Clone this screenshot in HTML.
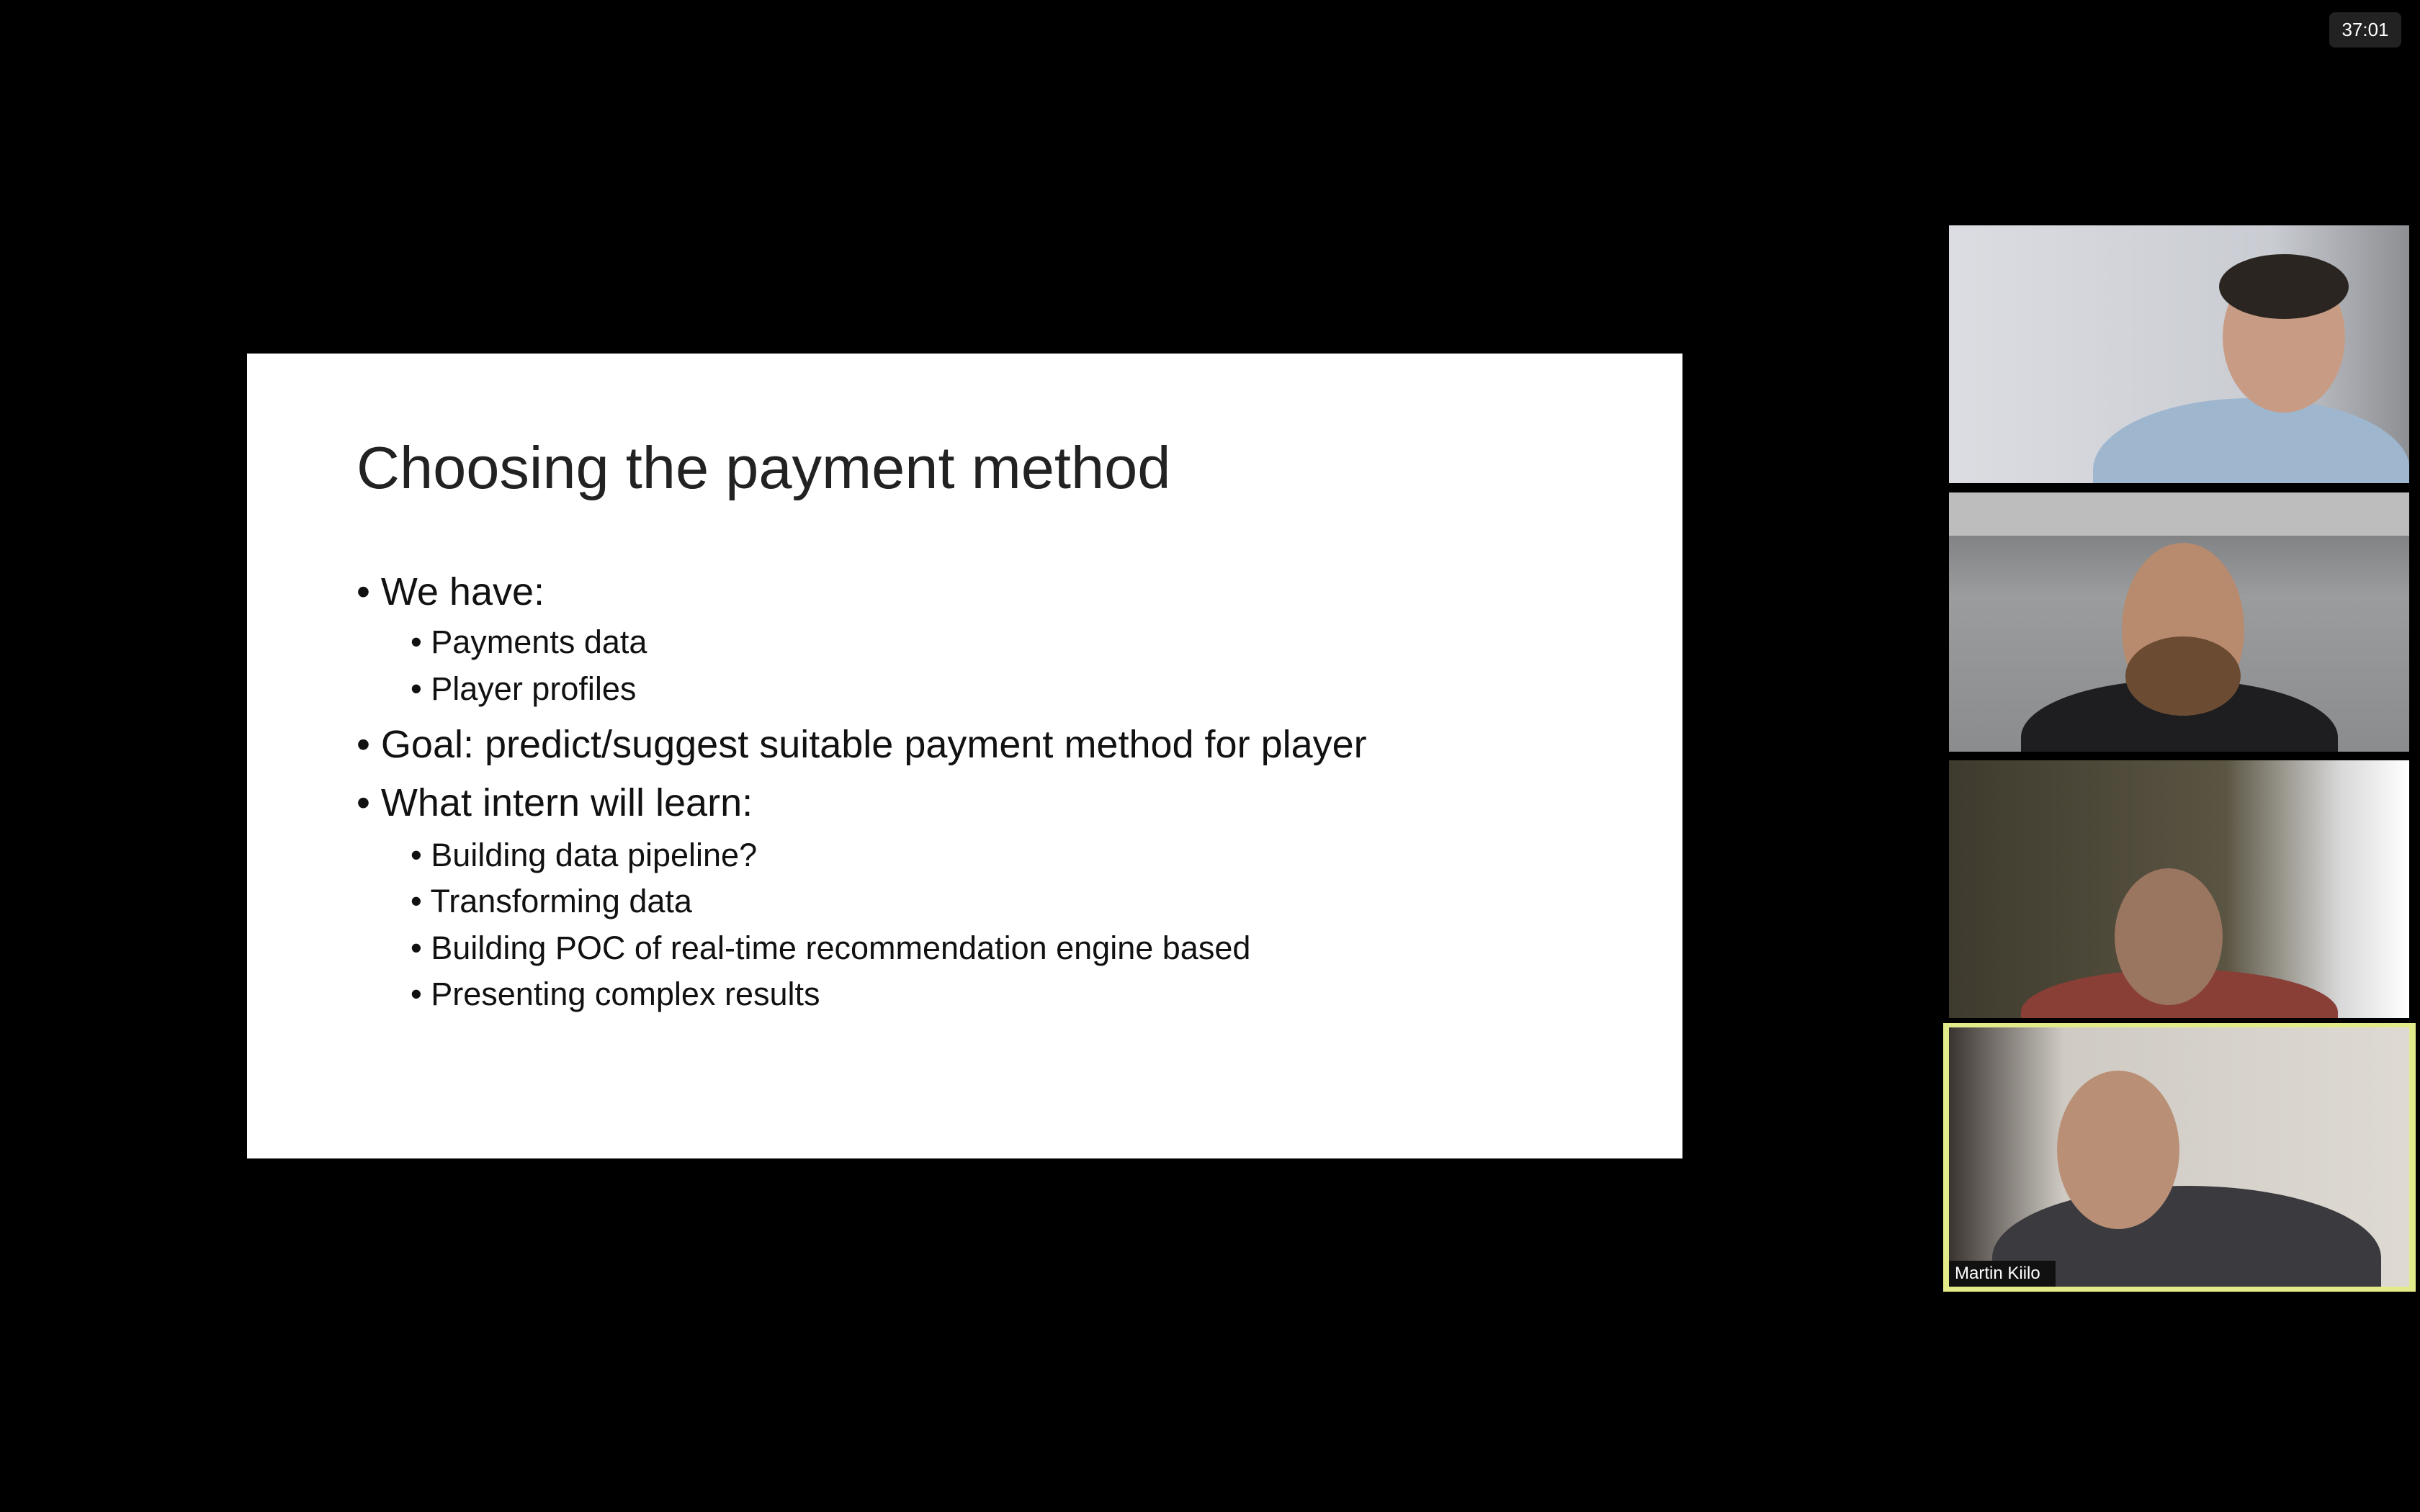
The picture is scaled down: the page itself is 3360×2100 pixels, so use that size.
<!DOCTYPE html>
<html><head><meta charset="utf-8"><style>
html,body{margin:0;padding:0;background:#000;}
body{width:3360px;height:2100px;position:relative;overflow:hidden;font-family:"Liberation Sans",sans-serif;}
.slide{position:absolute;left:343px;top:491px;width:1993px;height:1118px;background:#fff;}
.t{position:absolute;white-space:nowrap;color:#111;line-height:1;}
.tile{position:absolute;left:2706px;width:639px;overflow:hidden;}
.timer{position:absolute;left:3234px;top:17px;width:100px;height:49px;background:#222;border-radius:8px;color:#fff;font-size:26px;text-align:center;line-height:49px;}
.head{position:absolute;border-radius:50%;}
.body{position:absolute;border-radius:50% 50% 0 0;}
</style></head><body>
<div class="timer">37:01</div>
<div class="slide"></div>
<div class="t" style="left:495px;top:608px;font-size:83px;font-weight:300;color:#222;">Choosing the payment method</div>
<div class="t" style="left:495px;top:795px;font-size:54px;">• We have:</div>
<div class="t" style="left:570px;top:869px;font-size:45px;">• Payments data</div>
<div class="t" style="left:570px;top:934px;font-size:45px;">• Player profiles</div>
<div class="t" style="left:495px;top:1007px;font-size:54px;">• Goal: predict/suggest suitable payment method for player</div>
<div class="t" style="left:495px;top:1088px;font-size:54px;">• What intern will learn:</div>
<div class="t" style="left:570px;top:1165px;font-size:45px;">• Building data pipeline?</div>
<div class="t" style="left:570px;top:1229px;font-size:45px;">• Transforming data</div>
<div class="t" style="left:570px;top:1294px;font-size:45px;">• Building POC of real-time recommendation engine based</div>
<div class="t" style="left:570px;top:1358px;font-size:45px;">• Presenting complex results</div>

<div class="tile" style="top:313px;height:358px;background:linear-gradient(90deg,#dcdde2,#c9ccd2 70%,#8d8f93);">
 <div class="body" style="left:200px;top:240px;width:440px;height:200px;background:#9fb6cf;"></div>
 <div class="head" style="left:380px;top:50px;width:170px;height:210px;background:#c89c84;"></div>
 <div class="head" style="left:375px;top:40px;width:180px;height:90px;background:#2a2521;"></div>
</div>
<div class="tile" style="top:684px;height:360px;background:linear-gradient(180deg,#6f7174,#9a9c9e 40%,#8a8c8e);">
 <div style="position:absolute;left:0;top:0;width:639px;height:60px;background:#bdbdbd;"></div>
 <div class="body" style="left:100px;top:260px;width:440px;height:160px;background:#1e1e20;"></div>
 <div class="head" style="left:240px;top:70px;width:170px;height:240px;background:#b88a6e;"></div>
 <div class="head" style="left:245px;top:200px;width:160px;height:110px;background:#6b4c33;"></div>
</div>
<div class="tile" style="top:1056px;height:358px;background:linear-gradient(90deg,#3e3b2e,#5a5442 60%,#d8d8d8 85%,#fff);">
 <div class="body" style="left:100px;top:290px;width:440px;height:120px;background:#8a3f36;"></div>
 <div class="head" style="left:230px;top:150px;width:150px;height:190px;background:#9a7560;"></div>
</div>
<div style="position:absolute;left:2698px;top:1421px;width:656px;height:373px;background:#e3ea8a;"></div>
<div class="tile" style="top:1427px;height:360px;background:linear-gradient(90deg,#3a3430,#cfcbc4 25%,#dedad3);">
 <div class="body" style="left:60px;top:220px;width:540px;height:200px;background:#3b3b3f;"></div>
 <div class="head" style="left:150px;top:60px;width:170px;height:220px;background:#b98f76;"></div>
 <div style="position:absolute;left:0;top:324px;width:148px;height:36px;background:#111;color:#fff;font-size:24px;line-height:36px;padding-left:8px;box-sizing:border-box;">Martin Kiilo</div>
</div>
</body></html>
